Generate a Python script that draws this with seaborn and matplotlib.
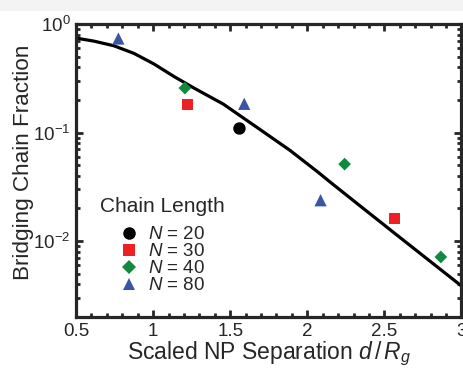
import matplotlib
matplotlib.use("Agg")
import matplotlib.pyplot as plt
from matplotlib.patches import Rectangle
from matplotlib.ticker import LogLocator, MultipleLocator, FixedLocator
from matplotlib.lines import Line2D
import numpy as np
import pandas as pd
import seaborn as sns

# Simulation points for each chain length
n20_sep = [1.56]
n20_frac = [0.109]
n30_sep = [1.225, 2.563]
n30_frac = [0.180, 0.0163]
n40_sep = [1.206, 2.242, 2.866]
n40_frac = [0.257, 0.0512, 0.00714]
n80_sep = [0.775, 1.591, 2.086]
n80_frac = [0.735, 0.184, 0.0238]

# Theory curve
theory_sep = [0.500, 0.519, 0.617, 0.746, 0.876, 1.006, 1.136, 1.265, 1.455,
              1.672, 1.888, 2.071, 2.147, 2.363, 2.580, 2.796, 3.000]
theory_frac = [0.755, 0.734, 0.695, 0.630, 0.536, 0.428, 0.328, 0.257, 0.183,
               0.112, 0.0685, 0.0430, 0.0351, 0.0200, 0.0114, 0.00653, 0.00386]

chain_labels = ["$N$ = 20", "$N$ = 30", "$N$ = 40", "$N$ = 80"]
x_ticks = [0.5, 1, 1.5, 2, 2.5, 3]
x_tick_labels = ["0.5", "1", "1.5", "2", "2.5", "3"]

sns.set_theme(style="ticks")
plt.rcParams["font.family"] = ["Liberation Sans", "DejaVu Sans"]
plt.rcParams["mathtext.fontset"] = "custom"
plt.rcParams["mathtext.rm"] = "Liberation Sans"
plt.rcParams["mathtext.it"] = "Liberation Sans:italic"
plt.rcParams["mathtext.bf"] = "Liberation Sans:bold"

rows = []
for lab, xs, ys in zip(chain_labels, [n20_sep, n30_sep, n40_sep, n80_sep],
                       [n20_frac, n30_frac, n40_frac, n80_frac]):
    for x, y in zip(xs, ys):
        rows.append({"sep": x, "frac": y, "chain": lab})
pts = pd.DataFrame(rows)
curve = pd.DataFrame({"sep": theory_sep, "frac": theory_frac})

colors = ["#000000", "#ED2024", "#108A3E", "#3A55A4"]
markers = ["o", "s", "D", "^"]
sizes = [80, 62, 42, 78]

fig = plt.figure(figsize=(4.63, 3.68), dpi=100)
fig.patches.append(Rectangle((0, 1 - 11 / 368), 1, 11 / 368, transform=fig.transFigure,
                             facecolor="#f3f3f3", edgecolor="none", zorder=0))
ax = fig.add_axes([76 / 463, 1 - 317 / 368, (461.5 - 76) / 463, (317 - 24) / 368])

sns.lineplot(data=curve, x="sep", y="frac", color="black", linewidth=2.3, ax=ax,
             sort=False, zorder=2, solid_joinstyle="round", solid_capstyle="round")
for lab, c, m, s in zip(chain_labels, colors, markers, sizes):
    sub = pts[pts["chain"] == lab]
    sns.scatterplot(data=sub, x="sep", y="frac", color=c, marker=m, s=s,
                    edgecolor="none", ax=ax, zorder=3, legend=False)

ax.set_yscale("log")
ax.set_xlim(0.5, 3)
ax.set_ylim(0.002, 1)
ax.xaxis.set_major_locator(FixedLocator(x_ticks))
ax.set_xticklabels(x_tick_labels)
ax.xaxis.set_minor_locator(MultipleLocator(0.1))
ax.yaxis.set_major_locator(LogLocator(base=10))
ax.yaxis.set_minor_locator(LogLocator(base=10, subs=np.arange(2, 10)))

for sp in ax.spines.values():
    sp.set_linewidth(2.3)
    sp.set_visible(True)
ax.tick_params(which="both", direction="in", top=True, right=True, width=2.0)
ax.tick_params(which="major", length=5, labelsize=13.5, pad=4)
ax.tick_params(which="minor", length=3)

ax.set_xlabel(r"Scaled NP Separation $d\,/\,R_g$", fontsize=16.5, labelpad=0)
ax.set_ylabel("Bridging Chain Fraction", fontsize=16.2)
ax.yaxis.set_label_coords((34 - 76) / 385.5, 0.5 + 8 / 293)

handles = [Line2D([], [], linestyle="none", marker=m, color=c, markersize=ms,
                  markeredgewidth=0)
           for m, c, ms in zip(markers, colors, [9, 8.5, 7.5, 9])]
leg = ax.legend(handles, chain_labels, loc="upper left", frameon=False,
                bbox_to_anchor=((120 - 76) / 385.5, 1 - (226 - 24) / 293),
                fontsize=13.5, handlelength=1.0, handletextpad=0.5,
                labelspacing=0.0, borderpad=0, borderaxespad=0)
ax.text((100 - 76) / 385.5, 1 - (207 - 24) / 293, "Chain Length", transform=ax.transAxes,
        fontsize=15, va="center", ha="left")

fig.savefig("out.png", dpi=100)
